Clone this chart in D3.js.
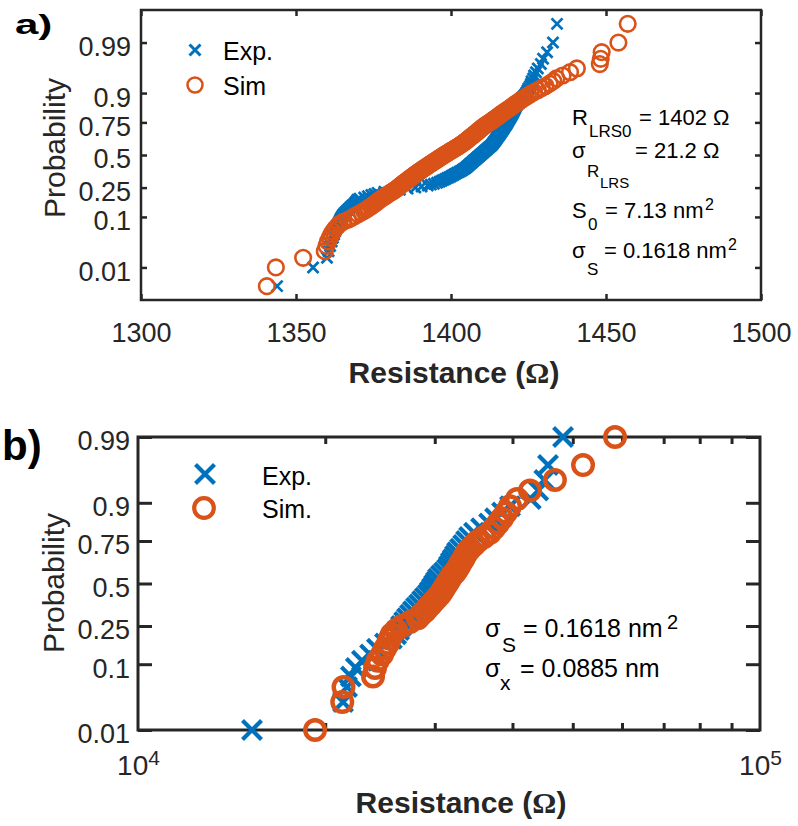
<!DOCTYPE html>
<html><head><meta charset="utf-8">
<script src="https://cdn.jsdelivr.net/npm/d3@7"></script>
<style>
body{margin:0;background:#fff}
svg{display:block}
text{font-family:"Liberation Sans",Arial,Helvetica,sans-serif}
</style>
</head><body>
<svg id="chart" width="798" height="826"></svg>
<script>
// ---------- data (sorted resistance samples) ----------
const expA = [
1343.9,1355.5,1360.0,1360.5,1361.0,1361.5,1361.9,1362.3,1362.6,1362.9,
1363.3,1363.6,1363.9,1364.2,1364.5,1364.9,1365.3,1365.8,1366.3,1366.8,
1367.3,1367.8,1368.3,1368.8,1369.2,1369.5,1369.8,1370.5,1372.0,1373.2,
1374.3,1375.3,1376.3,1378.5,1381.0,1383.5,1386.0,1388.5,1390.5,1392.5,
1393.5,1394.5,1395.5,1396.3,1397.0,1397.6,1398.2,1398.8,1399.4,1400.0,
1400.5,1401.0,1401.5,1402.0,1402.6,1403.1,1403.6,1404.0,1404.4,1404.8,
1405.1,1405.4,1405.7,1406.0,1406.3,1406.6,1406.9,1407.2,1407.5,1407.8,
1408.1,1408.4,1408.7,1409.0,1409.3,1409.6,1409.9,1410.2,1410.5,1410.8,
1411.1,1411.4,1411.7,1412.0,1412.3,1412.6,1412.9,1413.2,1413.4,1413.6,
1413.8,1414.0,1414.2,1414.4,1414.6,1414.8,1415.0,1415.2,1415.4,1415.6,
1415.8,1416.0,1416.2,1416.4,1416.6,1416.8,1417.0,1417.2,1417.4,1417.6,
1417.8,1418.0,1418.2,1418.4,1418.6,1418.8,1419.0,1419.2,1419.4,1419.6,
1419.8,1420.0,1420.2,1420.4,1420.6,1420.8,1421.0,1421.3,1421.6,1421.9,
1422.2,1422.6,1423.0,1423.5,1424.0,1424.4,1424.7,1425.0,1425.5,1425.8,
1426.0,1426.5,1426.8,1427.4,1428.0,1429.0,1429.7,1431.0,1432.9,1434.2];
const simA = [
1340.6,1343.5,1352.3,1359.3,1359.8,1360.3,1360.9,1361.4,1362.0,1362.6,
1363.3,1364.0,1365.2,1366.8,1368.0,1369.0,1370.0,1371.0,1371.9,1372.7,
1373.4,1374.2,1374.8,1375.4,1376.0,1376.5,1377.0,1377.6,1378.2,1378.8,
1379.3,1379.8,1380.4,1381.0,1381.5,1382.1,1382.5,1382.9,1383.3,1383.7,
1384.1,1384.5,1384.9,1385.3,1385.7,1386.1,1386.5,1386.9,1387.3,1387.7,
1388.0,1388.4,1388.8,1389.2,1389.6,1390.0,1390.4,1390.8,1391.2,1391.6,
1392.0,1392.4,1392.8,1393.2,1393.6,1394.0,1394.4,1394.8,1395.2,1395.6,
1396.0,1396.4,1396.8,1397.2,1397.6,1398.0,1398.4,1398.9,1399.3,1399.7,
1400.1,1400.6,1401.0,1401.5,1401.9,1402.3,1402.7,1403.1,1403.5,1403.9,
1404.3,1404.6,1405.0,1405.3,1405.6,1406.0,1406.3,1406.7,1407.0,1407.4,
1407.7,1408.1,1408.4,1408.8,1409.1,1409.5,1409.9,1410.2,1410.6,1411.0,
1411.5,1412.0,1412.5,1413.0,1413.4,1413.9,1414.4,1414.9,1415.4,1415.8,
1416.3,1416.8,1417.4,1418.0,1418.6,1419.2,1419.8,1420.4,1421.0,1421.7,
1422.4,1423.1,1424.0,1424.8,1425.7,1426.8,1428.0,1429.3,1430.5,1431.8,
1433.0,1434.0,1436.0,1438.4,1440.6,1448.0,1448.3,1448.6,1454.0,1457.0];
const expB = [
15250,21360,21680,21990,22400,22910,23610,24220,24950,25590,
26000,26290,26480,26780,27070,27370,27670,27990,28310,28620,
28930,29250,29480,29700,29920,30140,30360,30700,31050,31400,
31620,31850,32080,32340,32590,32950,33320,33680,34060,34690,
35610,36680,37500,38490,39640,42800,44000,45000,45620,48230];
const simB = [
19260,21300,21400,23870,24050,24290,24680,24950,25230,25410,
25600,26000,26570,27370,28180,28510,28930,29250,29590,29920,
30260,30590,30820,31050,31280,31510,31750,31980,32340,32590,
32830,33060,33320,33560,33810,34190,34690,35210,36010,36810,
37360,37910,38490,39050,39640,40680,42680,46800,51940,58470];

const probTicks = [0.01, 0.1, 0.25, 0.5, 0.75, 0.9, 0.99];
const probTickLabels = ["0.01", "0.1", "0.25", "0.5", "0.75", "0.9", "0.99"];
const xTicksA = [1300, 1350, 1400, 1450, 1500];
const xMajorB = [1e4, 1e5];
const xMinorB = [2e4, 3e4, 4e4, 5e4, 6e4, 7e4, 8e4, 9e4];
const legendA = ["Exp.", "Sim"];
const legendB = ["Exp.", "Sim."];

// ---------- helpers ----------
const BLUE = "#0072BD", ORANGE = "#D95319", AX = "#262626";
function probit(p){
  const a=[-3.969683028665376e+01,2.209460984245205e+02,-2.759285104469687e+02,1.383577518672690e+02,-3.066479806614716e+01,2.506628277459239e+00];
  const b=[-5.447609879822406e+01,1.615858368580409e+02,-1.556989798598866e+02,6.680131188771972e+01,-1.328068155288572e+01];
  const c=[-7.784894002430293e-03,-3.223964580411365e-01,-2.400758277161838e+00,-2.549732539343734e+00,4.374664141464968e+00,2.938163982698783e+00];
  const d=[7.784695709041462e-03,3.224671290700398e-01,2.445134137142996e+00,3.754408661907416e+00];
  const pl=0.02425, ph=1-pl; let q,r;
  if(p<pl){q=Math.sqrt(-2*Math.log(p));return (((((c[0]*q+c[1])*q+c[2])*q+c[3])*q+c[4])*q+c[5])/((((d[0]*q+d[1])*q+d[2])*q+d[3])*q+1);}
  if(p<=ph){q=p-0.5;r=q*q;return (((((a[0]*r+a[1])*r+a[2])*r+a[3])*r+a[4])*r+a[5])*q/(((((b[0]*r+b[1])*r+b[2])*r+b[3])*r+b[4])*r+1);}
  q=Math.sqrt(-2*Math.log(1-p));return -(((((c[0]*q+c[1])*q+c[2])*q+c[3])*q+c[4])*q+c[5])/((((d[0]*q+d[1])*q+d[2])*q+d[3])*q+1);
}
const svg = d3.select("#chart");

function styleAxis(g, fs, lw){
  g.select(".domain").remove();
  g.selectAll(".tick line").attr("stroke", AX).attr("stroke-width", lw);
  g.selectAll(".tick text").attr("fill", AX).attr("font-size", fs).attr("font-family", '"Liberation Sans",Arial,sans-serif');
}
function xPath(s){ return `M${-s},${-s}L${s},${s}M${-s},${s}L${s},${-s}`; }
function plotSeries(g, data, x, y, kind, size, lw, color){
  const sorted = d3.sort(data);
  const n = sorted.length;
  const pts = sorted.map((v,i)=>({x:x(v), y:y(probit((i+0.5)/n))}));
  if(kind==="x"){
    g.selectAll(null).data(pts).join("path")
      .attr("transform", d=>`translate(${d.x},${d.y})`)
      .attr("d", xPath(size)).attr("fill","none").attr("stroke",color).attr("stroke-width",lw);
  } else {
    g.selectAll(null).data(pts).join("circle")
      .attr("cx", d=>d.x).attr("cy", d=>d.y).attr("r", size)
      .attr("fill","none").attr("stroke",color).attr("stroke-width",lw);
  }
}
function pieces(g, list){
  list.forEach(p=>{
    g.append("text").attr("x",p[1]).attr("y",p[2]).attr("font-size",p[3])
      .attr("fill","#000").text(p[0]);
  });
}

// ================= Panel a =================
{
  const L=141, R=761, T=10, B=300;
  const x = d3.scaleLinear().domain([1300,1500]).range([L,R]);
  const y = d3.scaleLinear().domain([-3,3]).range([B,T]);
  const zt = probTicks.map(probit);
  const g = svg.append("g");

  const gb = g.append("g").attr("transform",`translate(0,${B})`)
    .call(d3.axisBottom(x).tickValues(xTicksA).tickFormat(d3.format("d")).tickSizeInner(-6).tickSizeOuter(0).tickPadding(23));
  styleAxis(gb, 27, 2.5);
  const gt = g.append("g").attr("transform",`translate(0,${T})`)
    .call(d3.axisTop(x).tickValues(xTicksA).tickFormat("").tickSizeInner(-6).tickSizeOuter(0));
  styleAxis(gt, 27, 2.5);
  const gl = g.append("g").attr("transform",`translate(${L},0)`)
    .call(d3.axisLeft(y).tickValues(zt).tickFormat((d,i)=>probTickLabels[i]).tickSizeInner(-6).tickSizeOuter(0).tickPadding(10));
  styleAxis(gl, 27, 2.5);
  gl.selectAll(".tick text").attr("dy","0.48em");
  const gr = g.append("g").attr("transform",`translate(${R},0)`)
    .call(d3.axisRight(y).tickValues(zt).tickFormat("").tickSizeInner(-6).tickSizeOuter(0));
  styleAxis(gr, 27, 2.5);

  g.append("rect").attr("x",L).attr("y",T).attr("width",R-L).attr("height",B-T)
    .attr("fill","none").attr("stroke",AX).attr("stroke-width",2.5);

  plotSeries(g, expA, x, y, "x", 5.5, 2.8, BLUE);
  plotSeries(g, simA, x, y, "o", 7.8, 2.6, ORANGE);

  // legend
  g.append("path").attr("transform","translate(195,50)").attr("d",xPath(5.5)).attr("fill","none").attr("stroke",BLUE).attr("stroke-width",3);
  g.append("circle").attr("cx",195).attr("cy",85).attr("r",7.5).attr("fill","none").attr("stroke",ORANGE).attr("stroke-width",2.5);
  g.append("text").attr("x",223).attr("y",60).attr("font-size",25).text(legendA[0]);
  g.append("text").attr("x",223).attr("y",95).attr("font-size",25).text(legendA[1]);

  // annotations
  pieces(g, [
    ["R",572,125,22],["LRS0",589,137,17],["= 1402 Ω",639,125,22],
    ["σ",572,158,22],["R",587,177,17],["LRS",600,188,15],["= 21.2 Ω",635,158,22],
    ["S",572,218,22],["0",588,230,17],["= 7.13 nm",605,218,22],["2",705,210,16],
    ["σ",572,258,22],["S",587,275,17],["= 0.1618 nm",604,258,22],["2",728,250,16]
  ]);

  // axis labels
  g.append("text").attr("transform",`translate(65,148) rotate(-90)`).attr("text-anchor","middle")
    .attr("font-size",30).attr("fill",AX).text("Probability");
  const xl = g.append("text").attr("x",454).attr("y",383).attr("text-anchor","middle")
    .attr("font-size",30).attr("font-weight","bold").attr("fill",AX);
  xl.append("tspan").text("Resistance (");
  xl.append("tspan").attr("font-family",'"Liberation Serif","Times New Roman",serif').text("Ω");
  xl.append("tspan").text(")");

  g.append("text").attr("transform","translate(15,34) scale(1,0.68)").attr("font-size",42)
    .attr("font-weight","bold").attr("fill","#000").text("a)");
}

// ================= Panel b =================
{
  const L=138, R=760, T=437, B=730;
  const x = d3.scaleLog().domain([1e4,1e5]).range([L,R]);
  const y = d3.scaleLinear().domain([probit(0.01), probit(0.99)]).range([B,T]);
  const zt = probTicks.map(probit);
  const g = svg.append("g");

  const gbm = g.append("g").attr("transform",`translate(0,${B})`)
    .call(d3.axisBottom(x).tickValues(xMinorB).tickFormat("").tickSizeInner(-7).tickSizeOuter(0));
  styleAxis(gbm, 28, 3);
  const gb = g.append("g").attr("transform",`translate(0,${B})`)
    .call(d3.axisBottom(x).tickValues(xMajorB).tickFormat(()=>"10").tickSizeInner(0).tickSizeOuter(0).tickPadding(25));
  styleAxis(gb, 28, 3);
  gb.selectAll(".tick text").append("tspan").attr("dy","-0.45em").attr("font-size",21)
    .text(d=>Math.round(Math.log10(d)));
  const gt = g.append("g").attr("transform",`translate(0,${T})`)
    .call(d3.axisTop(x).tickValues(xMinorB).tickFormat("").tickSizeInner(-7).tickSizeOuter(0));
  styleAxis(gt, 28, 3);
  const gl = g.append("g").attr("transform",`translate(${L},0)`)
    .call(d3.axisLeft(y).tickValues(zt).tickFormat((d,i)=>probTickLabels[i]).tickSizeInner(-14).tickSizeOuter(0).tickPadding(8));
  styleAxis(gl, 27, 3);
  gl.selectAll(".tick text").attr("dy","0.48em");
  const gr = g.append("g").attr("transform",`translate(${R},0)`)
    .call(d3.axisRight(y).tickValues(zt).tickFormat("").tickSizeInner(-14).tickSizeOuter(0));
  styleAxis(gr, 27, 3);

  g.append("rect").attr("x",L).attr("y",T).attr("width",R-L).attr("height",B-T)
    .attr("fill","none").attr("stroke",AX).attr("stroke-width",3);

  plotSeries(g, expB, x, y, "x", 9.5, 4.2, BLUE);
  plotSeries(g, simB, x, y, "o", 9.8, 4.4, ORANGE);

  // legend
  g.append("path").attr("transform","translate(205,474)").attr("d",xPath(9.5)).attr("fill","none").attr("stroke",BLUE).attr("stroke-width",4.2);
  g.append("circle").attr("cx",204).attr("cy",508).attr("r",9.8).attr("fill","none").attr("stroke",ORANGE).attr("stroke-width",4.2);
  g.append("text").attr("x",262).attr("y",485).attr("font-size",25).text(legendB[0]);
  g.append("text").attr("x",262).attr("y",518).attr("font-size",25).text(legendB[1]);

  pieces(g, [
    ["σ",485,637,25],["S",502,652,21],["= 0.1618 nm",523,637,25],["2",667,629,20],
    ["σ",485,677,25],["x",500,690,21],["= 0.0885 nm",520,677,25]
  ]);

  g.append("text").attr("transform",`translate(64,583) rotate(-90)`).attr("text-anchor","middle")
    .attr("font-size",30).attr("fill",AX).text("Probability");
  const xl = g.append("text").attr("x",461).attr("y",813).attr("text-anchor","middle")
    .attr("font-size",30).attr("font-weight","bold").attr("fill",AX);
  xl.append("tspan").text("Resistance (");
  xl.append("tspan").attr("font-family",'"Liberation Serif","Times New Roman",serif').text("Ω");
  xl.append("tspan").text(")");

  g.append("text").attr("x",2).attr("y",460).attr("font-size",42)
    .attr("font-weight","bold").attr("fill","#000").text("b)");
}
</script>
</body></html>
